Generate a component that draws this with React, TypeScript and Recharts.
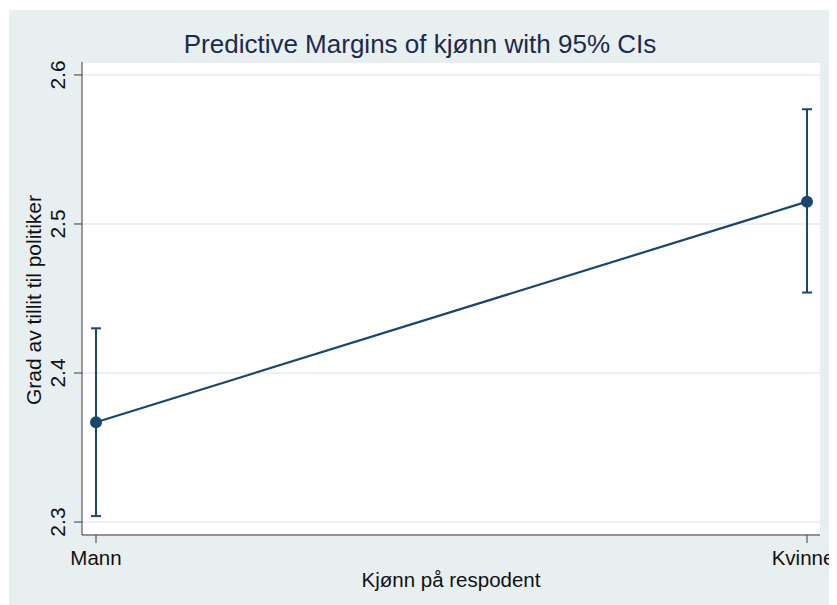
import React from "react";
import {
  LineChart,
  Line,
  XAxis,
  YAxis,
  CartesianGrid,
  ErrorBar,
  Label,
} from "recharts";

const categories = ["Mann", "Kvinne"];
const margins = [2.367, 2.515];
const ciLower = [2.304, 2.454];
const ciUpper = [2.43, 2.577];
const yTicks = [2.3, 2.4, 2.5, 2.6];

const data = categories.map((kjonn, i) => ({
  kjonn,
  margin: margins[i],
  ci: [margins[i] - ciLower[i], ciUpper[i] - margins[i]],
}));

const navy = "#1a476f";
const axisColor = "#3a3a3a";
const font = "'Liberation Sans', Arial, Helvetica, sans-serif";

const YTick = (props: any) => {
  const { x, y, payload } = props;
  return (
    <g transform={`translate(${x - 7},${y})`}>
      <text
        transform="rotate(-90)"
        textAnchor="middle"
        fontSize={21}
        fill="#111"
        fontFamily={font}
      >
        {payload.value.toFixed(1)}
      </text>
    </g>
  );
};

const XTick = (props: any) => {
  const { x, y, payload, index } = props;
  // last label sits against the right edge, nudge it in so it is not clipped
  const last = index === categories.length - 1;
  return (
    <text
      x={last ? x - 4 : x}
      y={y}
      dy="0.71em"
      textAnchor="middle"
      fontSize={20.5}
      fill="#111"
      fontFamily={font}
    >
      {payload.value}
    </text>
  );
};

export default function App() {
  return (
    <div
      style={{
        position: "relative",
        width: 828,
        height: 595,
        marginTop: 2,
        marginLeft: 1,
        background: "#e7eff1",
        fontFamily: font,
      }}
    >
      <div
        style={{
          position: "absolute",
          left: 0,
          width: 822,
          top: 19,
          textAlign: "center",
          fontSize: 26,
          color: "#1c2a4d",
        }}
      >
        Predictive Margins of kjønn with 95% CIs
      </div>
      <LineChart
        width={828}
        height={595}
        data={data}
        margin={{ top: 52, right: 17, left: 0, bottom: 0 }}
        style={{ position: "absolute", left: 0, top: 0 }}
      >
        <CartesianGrid
          vertical={false}
          fill="#ffffff"
          stroke="#e4ecee"
          strokeWidth={1.5}
        />
        <XAxis
          dataKey="kjonn"
          height={70}
          padding={{ left: 14, right: 13 }}
          stroke={axisColor}
          tickSize={8}
          tickMargin={7}
          tick={<XTick />}
          interval={0}
        >
          <Label
            content={() => (
              <text
                x={442}
                y={577}
                textAnchor="middle"
                fontSize={20.5}
                fill="#111"
                fontFamily={font}
              >
                Kjønn på respodent
              </text>
            )}
          />
        </XAxis>
        <YAxis
          width={73}
          domain={[2.2913, 2.6087]}
          ticks={yTicks}
          stroke={axisColor}
          tickSize={8}
          tick={<YTick />}
          allowDataOverflow
        >
          <Label
            content={() => (
              <g transform="translate(32,290)">
                <text
                  transform="rotate(-90)"
                  textAnchor="middle"
                  fontSize={21}
                  fill="#111"
                  fontFamily={font}
                >
                  Grad av tillit til politiker
                </text>
              </g>
            )}
          />
        </YAxis>
        <Line
          type="linear"
          dataKey="margin"
          stroke={navy}
          strokeWidth={2.2}
          dot={{ r: 6, fill: navy, stroke: navy, strokeWidth: 0 }}
          isAnimationActive={false}
        >
          <ErrorBar
            dataKey="ci"
            direction="y"
            width={5}
            stroke={navy}
            strokeWidth={2}
            isAnimationActive={false}
          />
        </Line>
      </LineChart>
    </div>
  );
}
